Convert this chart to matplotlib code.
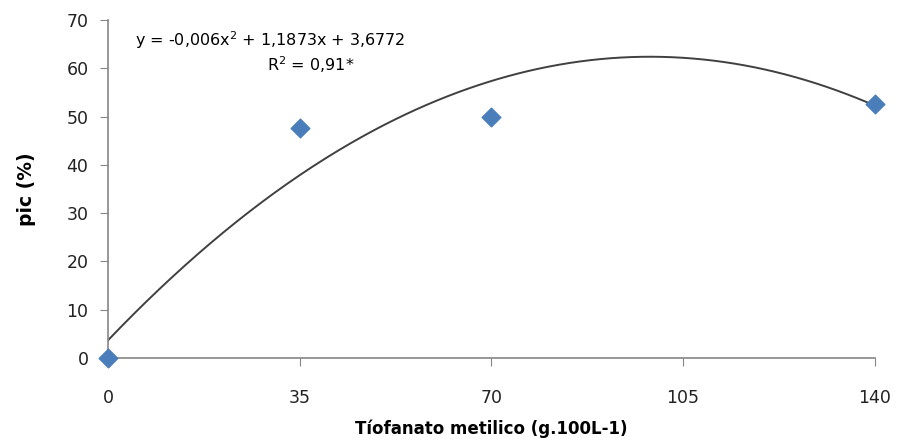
import numpy as np
import matplotlib.pyplot as plt

dose = [0, 35, 70, 140]
pic = [0, 47.6, 49.9, 52.7]

# trend line coefficients as printed on the chart
coef = [-0.006, 1.1873, 3.6772]
eq_text = "y = -0,006x$^2$ + 1,1873x + 3,6772"
r2_text = "R$^2$ = 0,91*"

x_ticks = [0, 35, 70, 105, 140]
y_ticks = [0, 10, 20, 30, 40, 50, 60, 70]

fig = plt.figure(figsize=(9, 4.47), dpi=100)
ax = fig.add_axes([0.12, 0.199, 0.852, 0.756])

xs = np.linspace(0, 140, 300)
ax.plot(xs, np.polyval(coef, xs), color="#404040", lw=1.4, zorder=2)
ax.scatter(dose, pic, marker="D", s=90, color="#4A7EBB", zorder=3, clip_on=False)

ax.set_xlim(0, 140)
ax.set_ylim(0, 70)
ax.set_xticks(x_ticks)
ax.set_yticks(y_ticks)
ax.tick_params(axis="both", labelsize=12.5, color="#868686", length=6, labelcolor="#222222")
ax.tick_params(axis="x", pad=16)
ax.tick_params(axis="y", pad=8)
for side in ["top", "right"]:
    ax.spines[side].set_visible(False)
for side in ["left", "bottom"]:
    ax.spines[side].set_color("#868686")
    ax.spines[side].set_linewidth(1.2)

ax.set_xlabel("Tíofanato metilico (g.100L-1)", fontsize=12, fontweight="bold", labelpad=9)
ax.set_ylabel("pic (%)", fontsize=13.5, fontweight="bold", labelpad=22)

ax.text(5, 65.8, eq_text, ha="left", va="center", fontsize=11.5)
ax.text(37, 60.8, r2_text, ha="center", va="center", fontsize=11.5)

fig.savefig("out.png", dpi=100)
